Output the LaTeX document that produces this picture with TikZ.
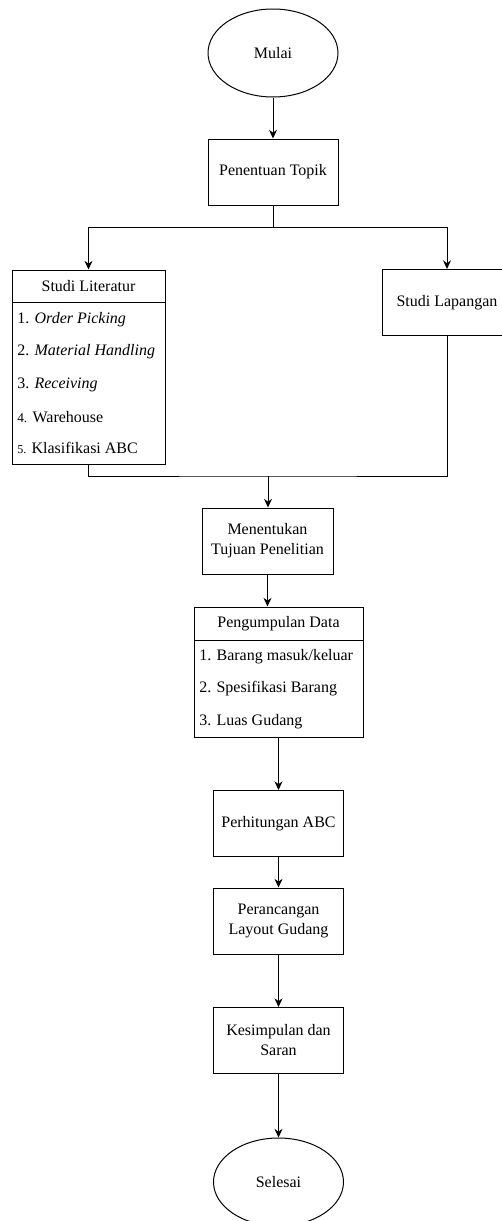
\documentclass[tikz,border=0pt]{standalone}
\usepackage{fontspec}
\setmainfont{Liberation Serif}
\usetikzlibrary{shapes.geometric,arrows.meta}

\tikzset{
  langkah/.style={draw, rectangle, line width=0.75pt, minimum width=97.5pt, minimum height=49.5pt, align=center, inner sep=1pt},
  terminal/.style={draw, ellipse, line width=0.75pt, minimum width=97.5pt, minimum height=66pt, inner sep=0pt},
  kepala/.style={draw, rectangle, line width=0.75pt, minimum height=24pt},
  daftar/.style={draw, rectangle, line width=0.75pt},
  isi/.style={anchor=west, inner sep=0pt},
  alur/.style={line width=0.75pt, -{Stealth[length=6.5pt,width=6pt]}},
  garis/.style={line width=0.75pt}
}

\begin{document}
\begin{tikzpicture}[x=0.75pt, y=-0.75pt, font=\fontsize{12}{15}\selectfont]
      \useasboundingbox (0,0) rectangle (501,1221);

      \node[terminal] (mulai) at (273,53) {Mulai};
      \node[langkah] (topik) at (273,172) {Penentuan Topik};

      % studi literatur dan studi lapangan
      \node[kepala, minimum width=114.75pt] (literatur) at (88.5,286) {Studi Literatur};
      \node[daftar, minimum width=114.75pt, minimum height=121.5pt] (teori) at (88.5,383) {};
      \node[isi] (teori1) at (17,320) {1. \textit{Order Picking}};
      \node[isi] (teori2) at (17,352) {2. \textit{Material Handling}};
      \node[isi] (teori3) at (17,385) {3. \textit{Receiving}};
      \node[isi] (teori4) at (17,417) {{\fontsize{10}{12}\selectfont 4.} Warehouse};
      \node[isi] (teori5) at (17,448) {{\fontsize{9}{11}\selectfont 5.} Klasifikasi ABC};

      \node[langkah] (lapangan) at (447,302.5) {Studi Lapangan};

      \node[langkah, minimum width=98.25pt] (tujuan) at (267.5,541) {Menentukan\\Tujuan Penelitian};

      % pengumpulan data
      \node[kepala, minimum width=126.75pt, minimum height=24.75pt] (data) at (278.5,623.5) {Pengumpulan Data};
      \node[daftar, minimum width=126.75pt, minimum height=72.75pt] (datalist) at (278.5,688.5) {};
      \node[isi] (data1) at (199,657) {1. Barang masuk/keluar};
      \node[isi] (data2) at (199,689) {2. Spesifikasi Barang};
      \node[isi] (data3) at (199,722) {3. Luas Gudang};

      \node[langkah] (abc) at (278.5,823.5) {Perhitungan ABC};
      \node[langkah] (layout) at (278.5,921) {Perancangan\\Layout Gudang};
      \node[langkah] (saran) at (278.5,1040.5) {Kesimpulan dan\\Saran};
      \node[terminal] (selesai) at (278.5,1182) {Selesai};

      \coordinate (cabang) at (273,227);
      \coordinate (gabung) at (268,476);

      \draw[alur] (mulai) -- (topik);
      \draw[garis] (topik.south) -- (cabang);
      \draw[alur] (cabang) -| (literatur.north);
      \draw[alur] (cabang) -| (lapangan.north);
      \draw[garis] (teori.south) |- (gabung) -| (lapangan.south);
      \draw[alur] (gabung) -- (gabung |- tujuan.north);
      \draw[alur] (tujuan.south) -- (tujuan.south |- data.north);
      \draw[alur] (datalist) -- (abc);
      \draw[alur] (abc) -- (layout);
      \draw[alur] (layout) -- (saran);
      \draw[alur] (saran) -- (selesai);
    \end{tikzpicture}
\end{document}
